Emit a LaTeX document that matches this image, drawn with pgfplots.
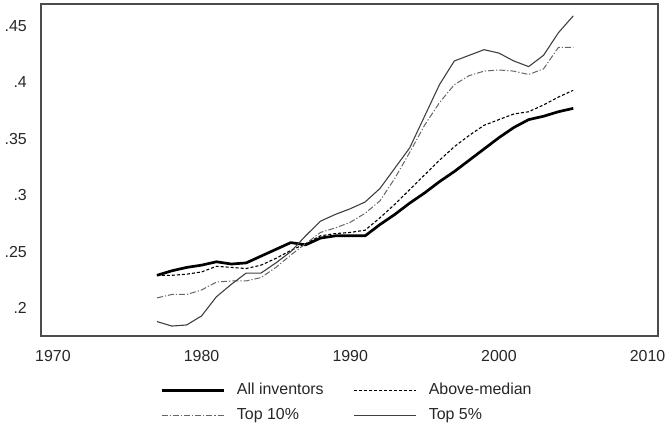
\documentclass[border=0pt]{standalone}
\usepackage{fontspec}
\setmainfont{Liberation Sans}
\usepackage{pgfplots}
\pgfplotsset{compat=1.18}
\usepackage{pgfplotstable}
\usetikzlibrary{calc}

\pgfplotstableread{
year all above top10 top5
1977 .229 .229 .209 .188
1978 .233 .229 .212 .184
1979 .236 .230 .212 .185
1980 .238 .232 .216 .193
1981 .241 .237 .223 .210
1982 .239 .236 .224 .221
1983 .240 .235 .224 .231
1984 .246 .238 .227 .231
1985 .252 .244 .236 .240
1986 .258 .251 .247 .250
1987 .256 .257 .257 .264
1988 .262 .264 .267 .277
1989 .264 .266 .271 .283
1990 .264 .267 .276 .288
1991 .264 .269 .284 .294
1992 .274 .280 .295 .306
1993 .283 .292 .315 .324
1994 .293 .305 .338 .342
1995 .302 .318 .362 .370
1996 .312 .331 .382 .398
1997 .321 .343 .398 .419
1998 .331 .353 .406 .424
1999 .341 .362 .410 .429
2000 .351 .367 .411 .426
2001 .360 .372 .410 .419
2002 .367 .374 .407 .414
2003 .370 .380 .412 .424
2004 .374 .387 .431 .444
2005 .377 .393 .431 .459
}\datatable

\begin{document}
\begin{tikzpicture}
\begin{axis}[
  scale only axis, width=617bp, height=332bp,
  xmin=1969.2, xmax=2010.7, ymin=0.1752, ymax=0.4695,
  xtick={1970,1980,1990,2000,2010},
  xticklabels={1970,1980,1990,2000,2010},
  ytick={0.2,0.25,0.3,0.35,0.4,0.45},
  yticklabels={.2,.25,.3,.35,.4,.45},
  major tick length=0pt,
  /pgf/number format/assume math mode=true,
  axis line style={black!70, line width=1.3bp},
  tick label style={font=\fontsize{16}{19}\selectfont, text=black!85},
  yticklabel style={anchor=east, inner sep=0pt, xshift=-14bp},
  xticklabel style={anchor=north, inner sep=0pt, yshift=-14bp},
  legend columns=2,
  legend cell align=left,
  legend style={at={(0.1929,-0.1416)}, anchor=north west, draw=none, fill=none,
    inner sep=0pt, font=\fontsize{16}{19}\selectfont, text=black!85,
    nodes={inner sep=0pt, text height=11bp, text depth=3bp},
    row sep=11bp,
    /tikz/every odd column/.append style={column sep=12bp},
    /tikz/every even column/.append style={column sep=30bp}},
  legend image code/.code={\draw[#1] (0bp,0bp) -- (62bp,0bp);},
]
\addplot[black, line width=2.7bp, line join=round] table[x=year, y=all] {\datatable};
\addlegendentry{All inventors}
\addplot[black, line width=1.1bp, dash pattern=on 3bp off 2bp] table[x=year, y=above] {\datatable};
\addlegendentry{Above-median}
\addplot[black!60, line width=1bp, dash pattern=on 6bp off 2bp on 1.2bp off 2bp] table[x=year, y=top10] {\datatable};
\addlegendentry{Top 10\%}
\addplot[black!75, line width=1.1bp, line join=round] table[x=year, y=top5] {\datatable};
\addlegendentry{Top 5\%}
\path (rel axis cs:0,0) coordinate (bl) (rel axis cs:1,1) coordinate (tr);
\end{axis}
\pgfresetboundingbox
\path[use as bounding box] ($(bl)+(-41bp,-90bp)$) rectangle ($(tr)+(9bp,4bp)$);
\end{tikzpicture}
\end{document}
